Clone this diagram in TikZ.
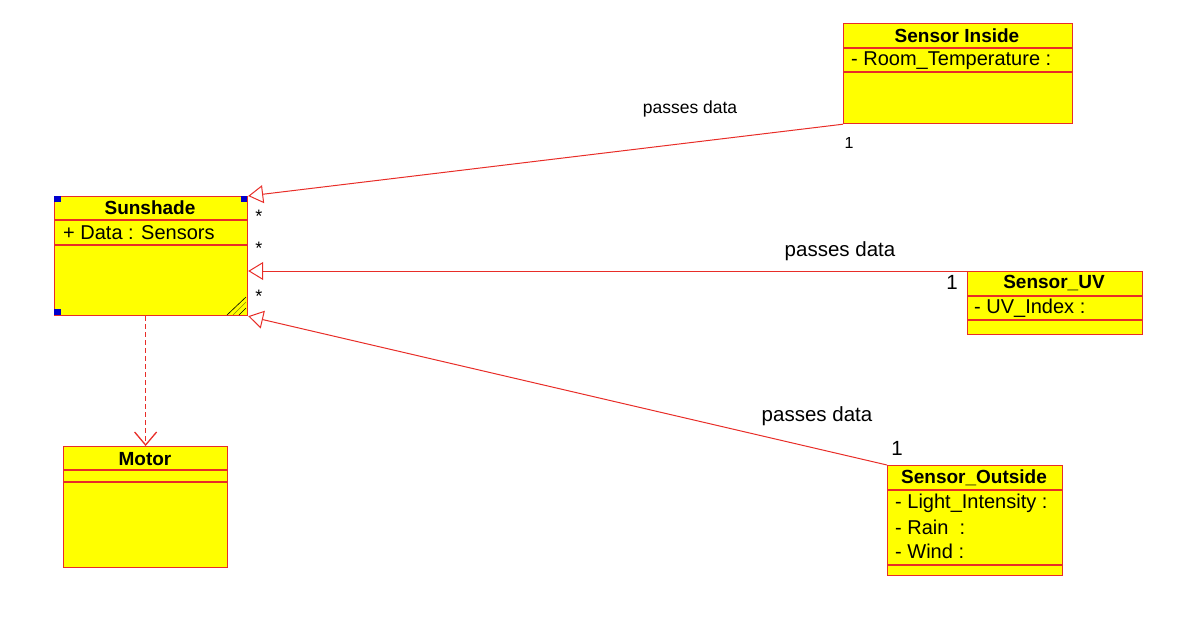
\documentclass[tikz,border=0pt]{standalone}
\usepackage{fontspec}
\setmainfont{Liberation Sans}
\usetikzlibrary{arrows.meta,positioning,calc}
\definecolor{umlred}{RGB}{232,45,40}
\definecolor{umlyellow}{RGB}{255,255,0}
\definecolor{umlblue}{RGB}{0,0,205}

\begin{document}
\begin{tikzpicture}[x=1pt, y=-1pt,
		classbox/.style={draw=umlred, fill=umlyellow, line width=1.2pt, inner sep=0pt, anchor=north west},
		compline/.style={umlred, line width=1.2pt},
		title/.style={font=\bfseries\fontsize{19}{21}\selectfont, inner sep=0pt},
		attr/.style={font=\fontsize{20}{22}\selectfont, inner sep=0pt, anchor=west},
		lbl/.style={font=\fontsize{20.5}{23}\selectfont, inner sep=0pt},
		assoc/.style={umlred, line width=1pt, -{Triangle[open, length=15pt, width=18pt, fill=white]}},
		depend/.style={draw=umlred, color=umlred, line width=1.3pt, dash pattern=on 5pt off 3pt, -{Straight Barb[length=13pt, width=22pt]}}]
		\useasboundingbox (0,0) rectangle (1192,633);
		% classes
		\node [classbox, minimum width=193pt, minimum height=119pt] (sunshade) at (54,196) {};
		\node [classbox, minimum width=229pt, minimum height=100pt] (inside) at (843,23) {};
		\node [classbox, minimum width=175pt, minimum height=63pt] (uv) at (967,271) {};
		\node [classbox, minimum width=175pt, minimum height=110pt] (outside) at (887,465) {};
		\node [classbox, minimum width=164pt, minimum height=121pt] (motor) at (63,446) {};
		% compartments
		\draw [compline] (54,220) -- (247,220);
		\draw [compline] (54,245) -- (247,245);
		\draw [compline] (843,48) -- (1072,48);
		\draw [compline] (843,72) -- (1072,72);
		\draw [compline] (967,296) -- (1142,296);
		\draw [compline] (967,320) -- (1142,320);
		\draw [compline] (887,490) -- (1062,490);
		\draw [compline] (887,565) -- (1062,565);
		\draw [compline] (63,470) -- (227,470);
		\draw [compline] (63,482) -- (227,482);
		% selection marks
		\fill [umlblue] (54,196) rectangle (61,202);
		\fill [umlblue] (241,196) rectangle (247,202);
		\fill [umlblue] (54,309) rectangle (61,315);
		\draw [line width=0.6pt] (227,315) -- (246,297);
		\draw [line width=0.6pt, olive] (233,315) -- (246,302);
		\draw [line width=0.6pt] (239,315) -- (246,308);
		% texts
		\node [title] (tSun) at (150,208) {Sunshade};
		\node [attr] (aSun) at (63,233) {+ Data : Sensors};
		\node [title] (tIn) at (957,36) {Sensor Inside};
		\node [attr] (aIn) at (851,61) {- Room\_Temperature :};
		\node [title] (tUv) at (1054,283) {Sensor\_UV};
		\node [attr] (aUv) at (974,308) {- UV\_Index :};
		\node [title] (tOut) at (974,478) {Sensor\_Outside};
		\node [attr] (aOut1) at (895,503) {- Light\_Intensity :};
		\node [attr] (aOut2) at (895,527) {- Rain~~:};
		\node [attr] (aOut3) at (895,551) {- Wind :};
		\node [title] (tMot) at (145,459) {Motor};
		% connectors
		\draw [assoc] (inside.south west) -- (sunshade.north east);
		\draw [assoc] (uv.north west) -- (uv.north west -| sunshade.east);
		\draw [assoc] (outside.north west) -- (sunshade.south east);
		\draw [depend] (sunshade.south -| motor.north) -- (motor.north);
		% labels
		\node [lbl, font=\fontsize{17.5}{19}\selectfont] (pIn) at (690,109) {passes data};
		\node [lbl] (pUv) at (840,251) {passes data};
		\node [lbl] (pOut) at (817,416) {passes data};
		\node [lbl, font=\fontsize{16}{18}\selectfont] (mIn) at (849,143) {1};
		\node [lbl] (mUv) at (952,282) {1};
		\node [lbl] (mOut) at (897,448) {1};
		\node [lbl, font=\fontsize{18}{20}\selectfont] (sIn) at (259,216) {*};
		\node [lbl, font=\fontsize{18}{20}\selectfont] (sUv) at (259,248) {*};
		\node [lbl, font=\fontsize{18}{20}\selectfont] (sOut) at (259,296) {*};
	\end{tikzpicture}
\end{document}
